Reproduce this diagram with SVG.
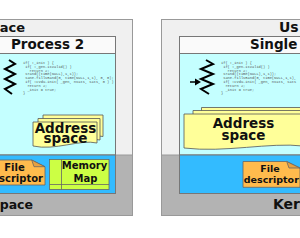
<svg xmlns="http://www.w3.org/2000/svg" width="300" height="238" viewBox="0 0 300 238">
<style>
.t{font-family:"DejaVu Sans",Verdana,sans-serif;font-weight:bold;fill:#111}
.big{font-size:14px}
.mid{font-size:13.5px}
.sm{font-size:10px}
.code{font-family:"Liberation Mono","Courier New",monospace;font-size:3.7px;fill:#555}
.zig{fill:none;stroke:#000;stroke-width:2}
.outer{fill:#f0f0f0;stroke:#999;stroke-width:1}
.kern{fill:#b3b3b3;stroke:#999;stroke-width:1}
.hdr{fill:#fafafa;stroke:#777;stroke-width:1}
.body{fill:#c4ffff;stroke:#777;stroke-width:1}
.blue{fill:#33bbff;stroke:#777;stroke-width:1}
.page{fill:#ffff99;stroke:#555;stroke-width:0.8}
.file{fill:#ffbb4d;stroke:#666;stroke-width:0.8}
.fold{fill:#e6a040;stroke:#666;stroke-width:0.8}
.mem{fill:#ccff44;stroke:#666;stroke-width:0.8}
</style>
<g id="left-panel">
  <rect class="outer" x="-40" y="19.5" width="172.5" height="196"/>
  <rect class="kern" x="-40" y="155" width="172.5" height="60.5"/>
  <text class="t" style="font-size:13px" x="25" y="32" text-anchor="end">ace</text>
  <text class="t" style="font-size:12.5px" x="33" y="208.5" text-anchor="end">pace</text>
</g>
<g id="process2">
  <rect class="hdr" x="-20" y="36.5" width="135.5" height="17"/>
  <rect class="body" x="-20" y="53.5" width="135.5" height="101.5"/>
  <rect class="blue" x="-20" y="155" width="135.5" height="38.5"/>
  <text class="t mid" x="47.5" y="49" text-anchor="middle">Process 2</text>
</g>
<g id="thread-left">
  <path class="zig" d="M9,60 L15,64 L5,69 L15,74 L5,79 L15,84 L5,89 L12,94"/>
  <g class="code">
    <text x="23" y="64">if( !_init ) {</text>
    <text x="25.2" y="67.8">if( !_gen.isValid() )</text>
    <text x="29.6" y="71.6">return 2;</text>
    <text x="25.2" y="75.4">srand((time(NULL),1,1));</text>
    <text x="25.2" y="79.2">sane.fillsRand(0, time(NULL,1,1), 0, 0);</text>
    <text x="25.2" y="83">if( !cvdu.init( _gen, nvats, sats, 0 ) )</text>
    <text x="27.4" y="86.8">return 2;</text>
    <text x="27.4" y="90.6">_init = true;</text>
    <text x="23" y="94.4">}</text>
  </g>
</g>
<g id="address-left">
  <path class="page" d="M43,115 H103 V136.5 C88,133 63,143 43,140 Z"/>
  <path class="page" d="M38,118.5 H100 V140 C85,136.5 60,146.5 38,143.5 Z"/>
  <path class="page" d="M33,122 H97 V143 C80,139 55,151 33,146 Z"/>
  <text class="t mid" x="65.5" y="132.5" text-anchor="middle">Address</text>
  <text class="t mid" x="65.5" y="143" text-anchor="middle">space</text>
</g>
<g id="filedesc-left">
  <path class="file" d="M-12,160 H31.7 L45,166.7 V185 H-12 Z"/>
  <path class="fold" d="M31.7,160 L34,166.7 L45,166.7 Z"/>
  <text class="t sm" x="14.5" y="170.5" text-anchor="middle">File</text>
  <text class="t sm" x="43" y="181.5" text-anchor="end">scriptor</text>
</g>
<g id="memmap-left">
  <rect class="mem" x="49.5" y="159.5" width="59.5" height="30"/>
  <line x1="61.5" y1="159.5" x2="61.5" y2="189.5" stroke="#666" stroke-width="0.8"/>
  <line x1="49.5" y1="184.5" x2="109" y2="184.5" stroke="#666" stroke-width="0.8"/>
  <text class="t sm" x="84.5" y="169" text-anchor="middle">Memory</text>
  <text class="t sm" x="85.5" y="181.5" text-anchor="middle">Map</text>
</g>
<g id="right-panel">
  <rect class="outer" x="161.5" y="19.5" width="200" height="196"/>
  <rect class="kern" x="161.5" y="155" width="200" height="60.5"/>
  <text class="t big" x="279" y="32">Us</text>
  <text class="t big" x="273" y="209">Ker</text>
</g>
<g id="single-process">
  <rect class="hdr" x="179.5" y="36.5" width="200" height="17"/>
  <rect class="body" x="179.5" y="53.5" width="200" height="101.5"/>
  <rect class="blue" x="179.5" y="155" width="200" height="38.5"/>
  <text class="t mid" x="250" y="49">Single</text>
</g>
<g id="thread-right">
  <path class="zig" d="M206,60 L213,64 L201,69 L213,74 L201,79 L213,84 L201,89 L209,94"/>
  <g class="code">
    <text x="221" y="64">if( !_init ) {</text>
    <text x="223.2" y="67.8">if( !_gen.isValid() )</text>
    <text x="227.6" y="71.6">return 2;</text>
    <text x="223.2" y="75.4">srand((time(NULL),1,1));</text>
    <text x="223.2" y="79.2">sane.fillsRand(0, time(NULL,1,1),</text>
    <text x="223.2" y="83">if( !cvdu.init( _gen, nvats, sats</text>
    <text x="225.4" y="86.8">return 2;</text>
    <text x="225.4" y="90.6">_init = true;</text>
    <text x="221" y="94.4">}</text>
  </g>
</g>
<g id="address-right">
  <path class="page" d="M201.5,107.5 H320 V140 C290,136 240,146 201.5,142 Z"/>
  <path class="page" d="M193,110.5 H315 V143 C285,139 235,149 193,145 Z"/>
  <path class="page" d="M184,114 H303 V146 C270,142 225,153 184,148 Z"/>
  <text class="t mid" x="243.5" y="127.5" text-anchor="middle">Address</text>
  <text class="t mid" x="243.5" y="139.5" text-anchor="middle">space</text>
</g>
<g id="filedesc-right">
  <path class="file" d="M243,161.5 H286.7 L300,168 V187.3 H243 Z"/>
  <path class="fold" d="M286.7,161.5 L289,168 L300,168 Z"/>
  <text class="t" style="font-size:9.5px" x="270" y="171.5" text-anchor="middle">File</text>
  <text class="t" style="font-size:9.5px" x="243.8" y="183">descriptor</text>
</g>
<g id="connectors">
  <line x1="190" y1="82" x2="196" y2="82" stroke="#000" stroke-width="1.5"/>
  <path d="M195,78.5 L201,82 L195,85.5 Z" fill="#000"/>
</g>
</svg>
